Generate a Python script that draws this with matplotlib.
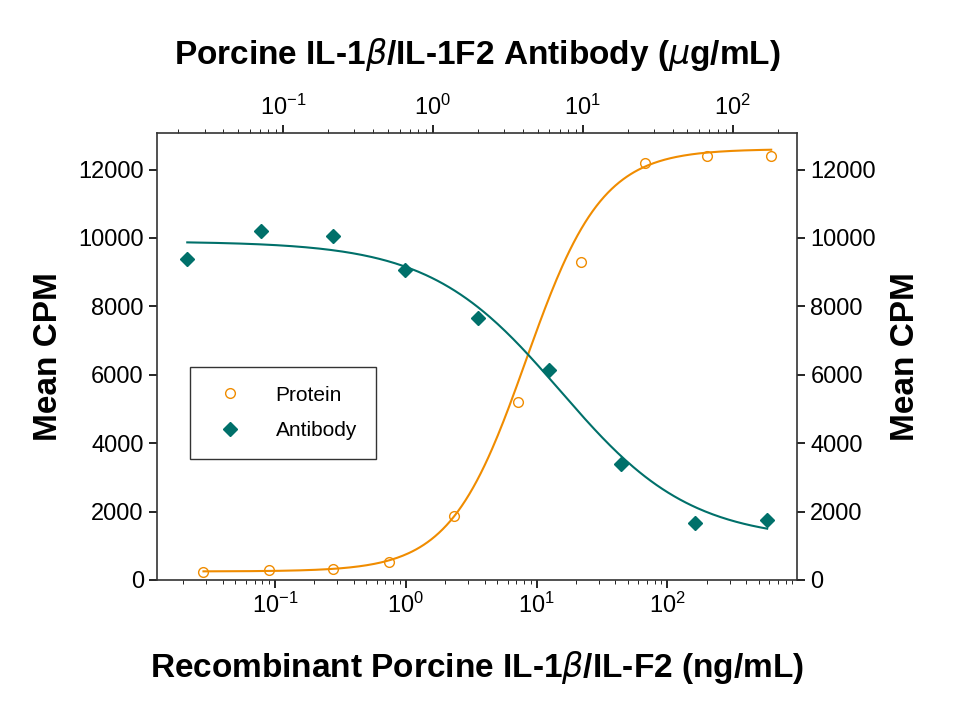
import numpy as np
import matplotlib
matplotlib.use("Agg")
import matplotlib.pyplot as plt
from matplotlib.ticker import LogLocator, FixedLocator

plt.rcParams['font.family'] = ['Liberation Sans', 'DejaVu Sans']

protein_x = [0.0285, 0.09, 0.28, 0.74, 2.35, 7.2, 22, 67, 200, 620]
protein_y = [240, 300, 330, 520, 1880, 5200, 9300, 12200, 12400, 12400]
antibody_x = [0.023, 0.071, 0.215, 0.65, 2.0, 6.0, 18, 56, 170]
antibody_y = [9400, 10200, 10050, 9050, 7650, 6150, 3400, 1680, 1740]
# 4PL fit parameters (bottom, top, ec50, hill)
protein_fit = (250, 12600, 8.3, 1.5)
antibody_fit = (1150, 9900, 7.1, 1.0)

orange = '#F08C00'
teal = '#00706A'

def fpl(x, b, t, c, h):
    return b + (t - b) / (1 + (c / x) ** h)

def fpl_dec(x, b, t, c, h):
    return b + (t - b) / (1 + (x / c) ** h)

fig = plt.figure(figsize=(9.54, 7.17), dpi=100)
ax = fig.add_axes([0.1646, 0.1911, 0.6709, 0.6234])
ax.set_xscale('log')
ax.set_xlim(10**-1.9, 10**2.99)
ax.set_ylim(0, 13070)
xs = np.logspace(np.log10(protein_x[0]), np.log10(protein_x[-1]), 300)
ax.plot(xs, fpl(xs, *protein_fit), color=orange, lw=1.5)
l1, = ax.plot(protein_x, protein_y, 'o', mfc='none', mec=orange, ms=7, label='Protein')

ax2 = ax.twiny()
ax2.set_xscale('log')
ax2.set_xlim(10**-1.84, 10**2.43)
xa = np.logspace(np.log10(antibody_x[0]), np.log10(antibody_x[-1]), 300)
ax2.plot(xa, fpl_dec(xa, *antibody_fit), color=teal, lw=1.5)
l2, = ax2.plot(antibody_x, antibody_y, 'D', color=teal, ms=7, label='Antibody')

ay = ax.twinx()
ay.set_ylim(0, 13070)
for a in (ax, ay):
    a.yaxis.set_major_locator(FixedLocator([0, 2000, 4000, 6000, 8000, 10000, 12000]))
for a in (ax, ax2):
    a.xaxis.set_major_locator(LogLocator(base=10, numticks=10))
    a.xaxis.set_minor_locator(LogLocator(base=10, subs=np.arange(2, 10), numticks=20))
for a in (ax, ax2, ay):
    a.tick_params(labelsize=17, length=6, width=1.2)
    a.tick_params(which='minor', length=3)
for a in (ax, ax2, ay):
    for s in a.spines.values():
        s.set_visible(False)
ax.spines['left'].set_visible(True)
ax.spines['bottom'].set_visible(True)
ax2.spines['top'].set_visible(True)
ay.spines['right'].set_visible(True)
for a in (ax, ax2, ay):
    for s in a.spines.values():
        s.set_linewidth(1.2)
        s.set_color('#333333')

ax.set_xlabel('Recombinant Porcine IL-1$\\beta$/IL-F2 (ng/mL)', fontsize=24, fontweight='bold', labelpad=22)
ax2.set_xlabel('Porcine IL-1$\\beta$/IL-1F2 Antibody ($\\mu$g/mL)', fontsize=24, fontweight='bold', labelpad=22)
ax.set_ylabel('Mean CPM', fontsize=24, fontweight='bold', labelpad=10)
ay.set_ylabel('Mean CPM', fontsize=24, fontweight='bold', labelpad=10)

leg = ax.legend(handles=[l1, l2], loc='upper left', bbox_to_anchor=(0.052, 0.477), borderaxespad=0,
                fontsize=15, frameon=True, fancybox=False, edgecolor='black', borderpad=0.9,
                labelspacing=0.8, handletextpad=1.2)
leg.get_frame().set_linewidth(1.0)
fig.savefig('out.png', dpi=100)
